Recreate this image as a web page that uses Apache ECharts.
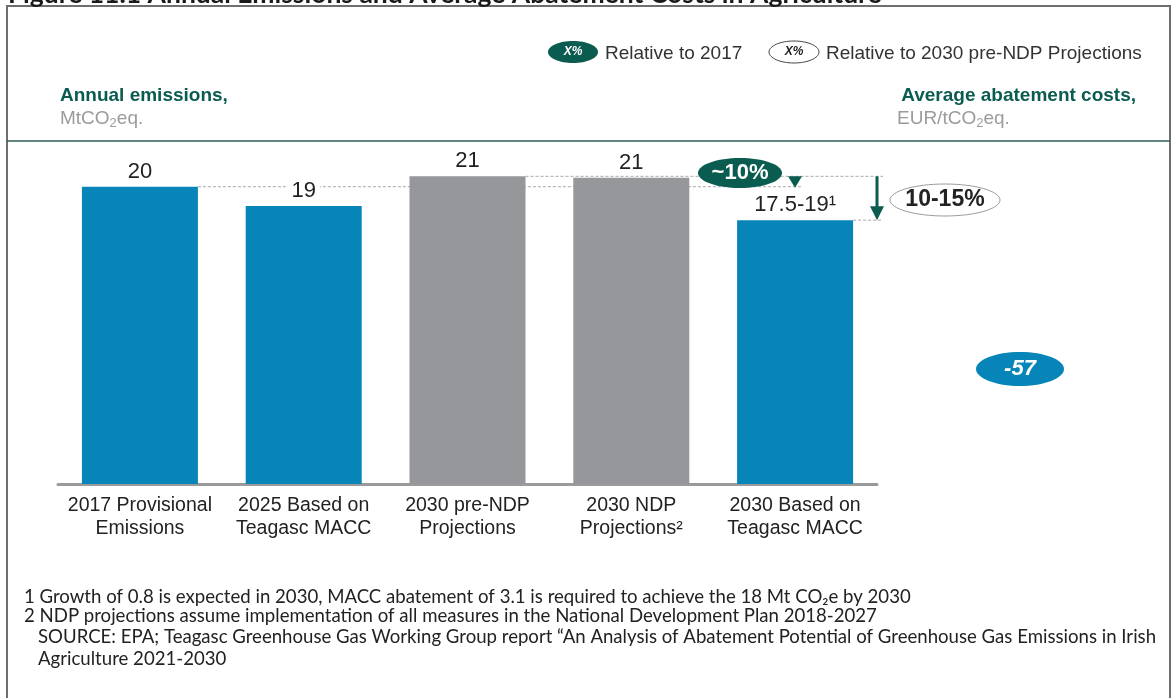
<!DOCTYPE html>
<html>
<head>
<meta charset="utf-8">
<script src="https://cdn.jsdelivr.net/npm/echarts@6/dist/echarts.min.js"></script>
<style>
  html, body { margin: 0; padding: 0; background: #fff; }
  #chart { width: 1173px; height: 698px; }
</style>
</head>
<body>
<div id="chart"></div>
<script>
// data
const categories = ['2017 Provisional\nEmissions', '2025 Based on\nTeagasc MACC', '2030 pre-NDP\nProjections', '2030 NDP\nProjections²', '2030 Based on\nTeagasc MACC']
const emissions = [20, 18.7, 20.7, 20.6, 17.75]
const valueLabels = ['20', '19', '21', '21', '17.5-19¹']
const barKind = ['actual', 'actual', 'projection', 'projection', 'actual']
const legendItems = ['Relative to 2017', 'Relative to 2030 pre-NDP Projections']
const footnotes = [
  '1 Growth of 0.8 is expected in 2030, MACC abatement of 3.1 is required to achieve the 18 Mt CO₂e by 2030',
  '2 NDP projections assume implementation of all measures in the National Development Plan 2018-2027',
  'SOURCE: EPA; Teagasc Greenhouse Gas Working Group report “An Analysis of Abatement Potential of Greenhouse Gas Emissions in Irish',
  'Agriculture 2021-2030',
]

const BLUE = '#0784b8', GREY = '#96979b', GREEN = '#0b5c50', DARK = '#222'
const FONT = '"Liberation Sans", Arial, sans-serif'
const BAR_W = 116

const chart = echarts.init(document.getElementById('chart'))

chart.setOption({
  animation: false,
  grid: { left: 58, right: 296, top: 157, bottom: 214 },
  xAxis: {
    type: 'category', data: categories,
    axisLine: { lineStyle: { color: '#9a9a9a', width: 3 } },
    axisTick: { show: false },
    axisLabel: { interval: 0, color: DARK, fontSize: 19.5, lineHeight: 23, margin: 10, fontFamily: FONT },
  },
  yAxis: { type: 'value', min: 0, max: 22, show: false },
  series: [{
    type: 'bar', barWidth: BAR_W, z: 2,
    data: emissions.map((v, i) => ({ value: v, itemStyle: { color: barKind[i] === 'actual' ? BLUE : GREY } })),
    label: {
      show: true, position: 'top', distance: 4,
      formatter: p => valueLabels[p.dataIndex],
      color: DARK, fontSize: 22, fontFamily: FONT,
      backgroundColor: '#fff', padding: [0, 4],
    },
  }],
})

const px = (i, v) => chart.convertToPixel({ gridIndex: 0 }, [i, v])
const half = BAR_W / 2

const y20 = px(0, emissions[0])[1]
const yTop = px(2, emissions[2])[1]
const yLow = px(4, emissions[4])[1]
const x0r = px(0, 0)[0] + half
const x2r = px(2, 0)[0] + half
const x4r = px(4, 0)[0] + half
const xTri = 795, xArrow = 877

const dash = (x1, y, x2) => ({
  type: 'line', z: 1, silent: true,
  shape: { x1, y1: y, x2, y2: y },
  style: { stroke: '#a8a8a8', lineWidth: 1, lineDash: [3, 2] },
})
const txt = (text, x, y, font, fill, align = 'left', extra = {}) => ({
  type: 'text', z: 20, silent: true,
  style: Object.assign({ text, x, y, font, fill, align, verticalAlign: 'middle' }, extra),
})
const ell = (cx, cy, rx, ry, fill, stroke) => ({
  type: 'ellipse', z: 15, silent: true,
  shape: { cx, cy, rx, ry },
  style: { fill, stroke: stroke || null, lineWidth: 1 },
})
const unitRich = {
  a: { fontSize: 19, fontFamily: FONT, fill: '#9b9b9b' },
  s: { fontSize: 13, fontFamily: FONT, fill: '#9b9b9b', padding: [9, 0, 0, 0] },
}

chart.setOption({
  graphic: [
    // frame
    { type: 'rect', z: 0, silent: true, shape: { x: 7, y: 6, width: 1163, height: 720 },
      style: { fill: 'none', stroke: '#6e6e6e', lineWidth: 2 } },
    { type: 'line', z: 0, silent: true, shape: { x1: 7, y1: 141, x2: 1170, y2: 141 },
      style: { stroke: '#2f5f59', lineWidth: 1.5 } },
    txt('Figure 11.1 Annual Emissions and Average Abatement Costs in Agriculture', 8, 8, 'bold 26.5px Lato', '#1a1a1a', 'left', { verticalAlign: 'bottom' }),

    // legend
    ell(573, 52, 25, 11, GREEN),
    txt('X%', 573, 52, 'italic bold 12px ' + FONT, '#fff', 'center'),
    txt(legendItems[0], 605, 54, '19px ' + FONT, '#333'),
    ell(794, 52, 25, 11, '#fff', '#444'),
    txt('X%', 794, 52, 'italic bold 12px ' + FONT, '#222', 'center'),
    txt(legendItems[1], 826, 54, '19px ' + FONT, '#333'),

    // axis titles
    txt('Annual emissions,', 60, 96, 'bold 19px ' + FONT, GREEN),
    { type: 'text', z: 20, silent: true, style: { text: '{a|MtCO}{s|2}{a|eq.}', rich: unitRich, x: 60, y: 119, verticalAlign: 'middle' } },
    txt('Average abatement costs,', 1136, 96, 'bold 19px ' + FONT, GREEN, 'right'),
    { type: 'text', z: 20, silent: true, style: { text: '{a|EUR/tCO}{s|2}{a|eq.}', rich: unitRich, x: 897, y: 119, verticalAlign: 'middle' } },

    // reference lines
    dash(x0r, y20, xTri + 6),
    dash(x2r, yTop, xArrow + 6),
    dash(x4r, yLow, xArrow + 6),

    // small triangle (relative to 2017)
    { type: 'polygon', z: 14, silent: true, shape: { points: [[xTri - 7, yTop], [xTri + 7, yTop], [xTri, y20 + 1]] },
      style: { fill: GREEN } },
    // arrow (relative to pre-NDP)
    { type: 'line', z: 14, silent: true, shape: { x1: xArrow, y1: yTop, x2: xArrow, y2: yLow - 12 },
      style: { stroke: GREEN, lineWidth: 3 } },
    { type: 'polygon', z: 14, silent: true, shape: { points: [[xArrow - 7, yLow - 14], [xArrow + 7, yLow - 14], [xArrow, yLow]] },
      style: { fill: GREEN } },

    ell(740, 173, 42, 15, GREEN),
    txt('~10%', 740, 173, 'bold 22px ' + FONT, '#fff', 'center'),
    ell(945, 200, 55, 16, '#fff', '#9a9a9a'),
    txt('10-15%', 945, 200, 'bold 23px ' + FONT, DARK, 'center'),
    ell(1020, 369, 44, 17, BLUE),
    txt('-57', 1020, 369, 'italic bold 22px ' + FONT, '#fff', 'center'),

    // footnotes
    ...footnotes.map((t, i) => txt(t, i < 2 ? 24 : 38, [597, 616, 637, 659][i], '18.6px Lato', DARK)),
  ],
})
</script>
</body>
</html>
